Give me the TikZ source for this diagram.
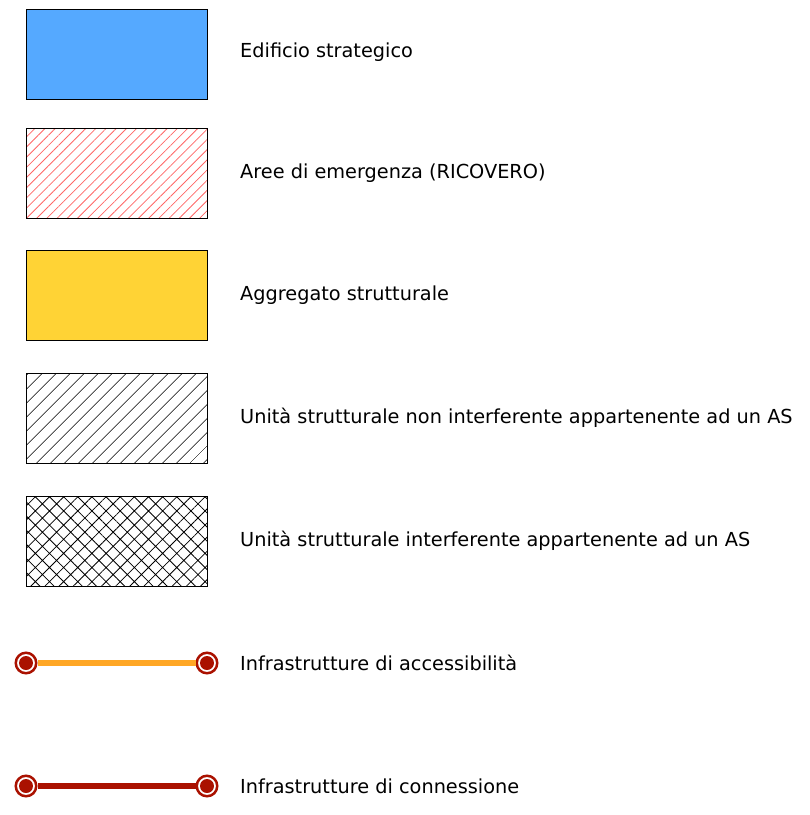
\documentclass[tikz,border=0pt]{standalone}
\usepackage{fontspec}
\setmainfont{DejaVu Sans}
\usetikzlibrary{patterns.meta}
\definecolor{strategico}{HTML}{55A9FF}
\definecolor{aggregato}{HTML}{FFD335}
\definecolor{accesso}{HTML}{FFA726}
\definecolor{connessione}{HTML}{AA1100}
\tikzset{
  box/.style={draw,line width=0.8pt,minimum width=181pt,minimum height=90pt,inner sep=0pt},
  lbl/.style={anchor=west,font=\fontsize{19.3}{22}\selectfont,inner sep=0pt},
  endpt/.style={circle,draw=connessione,line width=2.5pt,fill=white,minimum size=20.5pt,inner sep=0pt,
    path picture={\fill[connessione] (path picture bounding box.center) circle (7pt);}}
}
\begin{document}
\begin{tikzpicture}[x=1pt,y=-1pt]
    \useasboundingbox (0,0) rectangle (810,815);
    \node[box,fill=strategico] (b1) at (116.5,54) {};
    \node[box,pattern={Lines[angle=45,distance=7.2pt,line width=0.8pt]},pattern color=red!60] (b2) at (116.5,173) {};
    \node[box,fill=aggregato] (b3) at (116.5,295) {};
    \node[box,pattern={Lines[angle=45,distance=10.5pt,line width=0.8pt]}] (b4) at (116.5,418) {};
    \node[box,pattern={Hatch[angle=45,distance=10pt,line width=0.8pt]}] (b5) at (116.5,541) {};
    \node[lbl] (t1) at (240,52) {Edificio strategico};
    \node[lbl] (t2) at (240,173) {Aree di emergenza (RICOVERO)};
    \node[lbl] (t3) at (240,295) {Aggregato strutturale};
    \node[lbl] (t4) at (240,418) {Unità strutturale non interferente appartenente ad un AS};
    \node[lbl] (t5) at (240,541) {Unità strutturale interferente appartenente ad un AS};
    % infrastrutture
    \node[endpt] (a1) at (26,663) {};
    \node[endpt] (a2) at (207,663) {};
    \draw[accesso,line width=6pt] (a1) -- (a2);
    \node[lbl] (t6) at (240,663) {Infrastrutture di accessibilità};
    \node[endpt] (c1) at (26,786) {};
    \node[endpt] (c2) at (207,786) {};
    \draw[connessione,line width=6pt] (c1) -- (c2);
    \node[lbl] (t7) at (240,786) {Infrastrutture di connessione};
  \end{tikzpicture}
\end{document}
